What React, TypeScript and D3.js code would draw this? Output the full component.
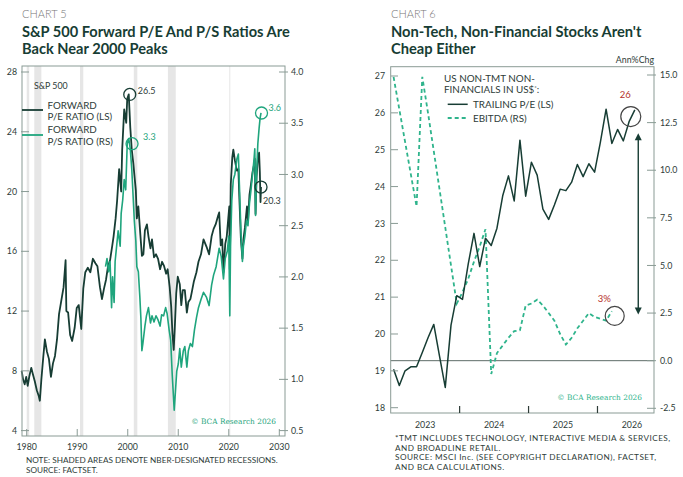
import * as d3 from 'd3';

const FONT = "Lato, 'Open Sans', sans-serif";
const SERIF = "'DejaVu Serif', 'Liberation Serif', serif";
const DARK = '#173d34';
const GREEN = '#1fa57d';
const DASH_GREEN = '#2fb48c';
const TEXT = '#2e3c38';
const FRAME = '#8a9b95';
const RED = '#b5302a';

// ---------- Chart 5: S&P 500 forward P/E and P/S ----------
const recessions: [number, number][] = [
  [1980.0, 1980.5],
  [1981.5, 1982.9],
  [1990.55, 1991.2],
  [2001.2, 2001.9],
  [2007.95, 2009.5],
  [2020.1, 2020.3],
];

// [decimal year, forward P/E]
const fwdPE: [number, number][] = [
  [1979.0, 8.0], [1979.3, 7.4], [1979.6, 7.1], [1979.9, 7.6], [1980.2, 7.0], [1980.5, 7.6],
  [1980.9, 8.2], [1981.2, 7.8], [1981.6, 7.3], [1982.0, 6.7], [1982.4, 6.3], [1982.6, 6.0],
  [1982.9, 7.4], [1983.3, 9.0], [1983.6, 10.1], [1984.0, 9.3], [1984.4, 8.8], [1984.8, 7.6],
  [1985.2, 8.5], [1985.6, 9.0], [1986.0, 10.1], [1986.4, 11.8], [1986.8, 12.6], [1987.3, 13.6],
  [1987.7, 15.4], [1987.85, 12.0], [1988.2, 11.9], [1988.6, 10.4], [1989.0, 10.0], [1989.5, 10.9],
  [1989.9, 12.2], [1990.3, 12.4], [1990.8, 10.8], [1991.2, 13.5], [1991.6, 14.6], [1992.1, 14.9],
  [1992.6, 14.6], [1993.1, 15.5], [1993.6, 15.2], [1994.0, 15.0], [1994.5, 13.6], [1994.9, 12.8],
  [1995.3, 13.5], [1995.7, 14.1], [1996.1, 15.0], [1996.5, 15.4], [1996.9, 16.3], [1997.2, 17.0],
  [1997.6, 18.2], [1997.9, 19.4], [1998.3, 21.5], [1998.7, 20.0], [1998.9, 22.8], [1999.3, 25.5],
  [1999.7, 24.6], [1999.9, 26.2], [2000.2, 26.5], [2000.5, 24.3], [2000.8, 22.8], [2001.1, 21.9],
  [2001.4, 20.8], [2001.6, 20.1], [2001.8, 18.2], [2002.1, 19.0], [2002.5, 17.1], [2002.8, 15.7],
  [2003.1, 15.8], [2003.4, 17.4], [2003.8, 17.8], [2004.1, 17.0], [2004.5, 16.2], [2004.8, 16.8],
  [2005.2, 15.6], [2005.6, 15.8], [2006.0, 15.5], [2006.4, 14.8], [2006.8, 15.3], [2007.2, 15.0],
  [2007.6, 14.5], [2007.9, 14.8], [2008.3, 13.6], [2008.6, 12.3], [2008.85, 10.5], [2009.1, 9.4],
  [2009.3, 10.8], [2009.6, 13.2], [2009.9, 14.3], [2010.3, 13.8], [2010.6, 12.4], [2010.9, 13.4],
  [2011.3, 13.4], [2011.7, 11.9], [2012.0, 12.6], [2012.4, 12.8], [2012.7, 13.3], [2013.1, 14.0],
  [2013.6, 14.6], [2014.0, 15.3], [2014.5, 15.8], [2015.0, 16.8], [2015.6, 16.3], [2016.1, 15.8],
  [2016.6, 17.0], [2017.0, 17.5], [2017.4, 17.8], [2017.9, 18.4], [2018.1, 18.6], [2018.4, 16.4],
  [2018.7, 16.8], [2018.95, 14.6], [2019.3, 16.5], [2019.6, 17.0], [2019.9, 18.2], [2020.1, 19.0],
  [2020.2, 14.8], [2020.4, 20.5], [2020.7, 22.3], [2020.9, 22.8], [2021.2, 22.1], [2021.6, 21.4],
  [2021.9, 21.5], [2022.1, 19.5], [2022.4, 16.8], [2022.7, 15.5], [2022.9, 16.8], [2023.2, 17.6],
  [2023.6, 19.0], [2023.8, 18.0], [2024.1, 19.8], [2024.4, 20.5], [2024.7, 21.3], [2025.0, 21.8],
  [2025.15, 22.2], [2025.3, 18.5], [2025.5, 21.0], [2025.8, 22.4], [2026.0, 22.6], [2026.15, 21.3],
  [2026.28, 19.3], [2026.38, 20.3],
];

// [decimal year, forward P/S]
const fwdPS: [number, number][] = [
  [1995.6, 2.1], [1995.9, 2.18], [1996.2, 2.05], [1996.5, 2.15], [1996.8, 1.7], [1997.0, 2.0],
  [1997.3, 1.75], [1997.5, 2.15], [1997.8, 2.3], [1998.1, 2.45], [1998.5, 2.3], [1998.7, 2.62],
  [1999.0, 2.75], [1999.3, 2.95], [1999.6, 2.85], [1999.9, 3.3], [2000.2, 3.35], [2000.5, 3.25],
  [2000.8, 3.05], [2001.0, 2.85], [2001.3, 2.55], [2001.6, 2.35], [2001.8, 2.1], [2002.1, 2.05],
  [2002.4, 1.8], [2002.6, 1.6], [2002.8, 1.28], [2003.0, 1.35], [2003.4, 1.52], [2003.7, 1.62],
  [2004.1, 1.7], [2004.5, 1.55], [2004.8, 1.62], [2005.2, 1.56], [2005.6, 1.62], [2006.0, 1.58],
  [2006.4, 1.52], [2006.7, 1.63], [2007.1, 1.62], [2007.5, 1.7], [2007.8, 1.64], [2008.2, 1.48],
  [2008.5, 1.38], [2008.8, 1.05], [2009.2, 0.7], [2009.4, 0.85], [2009.7, 1.08], [2010.0, 1.15],
  [2010.3, 1.3], [2010.6, 1.12], [2011.0, 1.28], [2011.3, 1.32], [2011.7, 1.12], [2012.0, 1.28],
  [2012.4, 1.35], [2012.8, 1.32], [2013.2, 1.48], [2013.6, 1.6], [2014.0, 1.7], [2014.5, 1.78],
  [2015.0, 1.85], [2015.6, 1.8], [2016.1, 1.72], [2016.6, 1.92], [2017.0, 2.02], [2017.5, 2.1],
  [2017.9, 2.22], [2018.1, 2.28], [2018.5, 2.2], [2018.95, 1.98], [2019.3, 2.18], [2019.7, 2.25],
  [2020.0, 2.4], [2020.2, 1.62], [2020.35, 2.3], [2020.6, 2.75], [2020.9, 2.95], [2021.2, 3.0],
  [2021.6, 3.15], [2021.9, 3.2], [2022.1, 2.9], [2022.4, 2.45], [2022.7, 2.15], [2022.9, 2.3],
  [2023.2, 2.4], [2023.5, 2.55], [2023.8, 2.5], [2024.1, 2.72], [2024.4, 2.85], [2024.7, 3.0],
  [2025.0, 3.15], [2025.15, 3.25], [2025.3, 2.6], [2025.5, 3.0], [2025.75, 3.3], [2026.0, 3.45],
  [2026.2, 3.55], [2026.38, 3.6],
];

const peTicks5 = [4, 8, 12, 16, 20, 24, 28];
const psTicks5 = [0.5, 1.0, 1.5, 2.0, 2.5, 3.0, 3.5, 4.0];
const decades = [1980, 1990, 2000, 2010, 2020, 2030];

// callouts: [year, value, label]
const peCallouts5: [number, number, string][] = [[2000.4, 26.5, '26.5'], [2026.38, 20.3, '20.3']];
const psCallouts5: [number, number, string][] = [[2000.85, 3.3, '3.3'], [2026.48, 3.6, '3.6']];

// ---------- Chart 6: non-TMT non-financials ----------
const firstYear6 = 2023; // monthly from Jan 2023
const trailingPE = [
  19.04, 18.6, 19.0, 19.11, 19.11, 19.5, 19.9, 20.26, 19.4, 18.55, 20.24, 21.04,
  20.94, 21.9, 22.73, 21.83, 22.6, 22.4, 22.87, 23.75, 24.29, 23.61, 25.26, 23.74,
  24.66, 24.31, 23.39, 23.11, 23.5, 23.93, 23.89, 24.12, 24.6, 24.27, 24.62, 24.39,
  25.2, 26.1, 25.17, 25.55, 25.24, 25.76, 26.08,
];
const ebitdaGrowth = [
  14.9, 13.2, 11.5, 9.8, 8.1, 14.9, 13.0, 11.0, 9.0, 7.0, 5.0, 3.0,
  3.6, 4.3, 5.2, 6.0, 6.9, -0.7, 0.4, 0.8, 1.2, 1.55, 1.6, 2.9,
  3.0, 3.2, 2.9, 2.5, 2.1, 1.4, 0.85, 1.2, 1.7, 2.1, 2.5, 2.3,
  2.2, 2.1, 2.6,
];
const peTicks6 = [18, 19, 20, 21, 22, 23, 24, 25, 26, 27];
const ebitdaTicks = [-2.5, 0, 2.5, 5, 7.5, 10, 12.5, 15];
const yearTicks6 = [2024, 2025, 2026];
const yearLabels6 = [2023, 2024, 2025, 2026];

function Chart5() {
  const left = 22, right = 285, top = 66, bottom = 436;
  const x = d3.scaleLinear().domain([1980, 2030]).range([26.7, 279.3]);
  const yL = d3.scaleLinear().domain([4, 28]).range([430.6, 72]);
  const yR = d3.scaleLinear().domain([0.5, 4]).range([430.6, 72]);
  const pePath = d3.line<[number, number]>().x((d) => x(d[0])).y((d) => yL(d[1]))(fwdPE) ?? '';
  const psPath = d3.line<[number, number]>().x((d) => x(d[0])).y((d) => yR(d[1]))(fwdPS) ?? '';

  return (
    <g fontFamily={FONT}>
      <text x={22} y={18} fontSize={11} fill="#777" fontWeight={300}>CHART 5</text>
      <text x={22} y={37} fontSize={14.6} fontWeight={700} fill={DARK}>S&amp;P 500 Forward P/E And P/S Ratios Are</text>
      <text x={22} y={53.5} fontSize={14.6} fontWeight={700} fill={DARK}>Back Near 2000 Peaks</text>

      {recessions.map(([a, b], i) => (
        <rect key={i} x={x(a)} y={top} width={Math.max(1, x(b) - x(a))} height={bottom - top} fill="#e6e6e6" />
      ))}

      <path d={pePath} fill="none" stroke={DARK} strokeWidth={1.8} strokeLinejoin="round" />
      <path d={psPath} fill="none" stroke={GREEN} strokeWidth={1.6} strokeLinejoin="round" />

      <rect x={left} y={top} width={right - left} height={bottom - top} fill="none" stroke={FRAME} strokeWidth={1} />

      {peTicks5.map((t) => (
        <g key={t}>
          <line x1={21} x2={29} y1={yL(t)} y2={yL(t)} stroke={FRAME} />
          <text x={17} y={yL(t)} dy="0.35em" textAnchor="end" fontSize={8.8} fill={TEXT}>{t}</text>
        </g>
      ))}
      {psTicks5.map((t) => (
        <g key={t}>
          <line x1={279} x2={288} y1={yR(t)} y2={yR(t)} stroke={FRAME} />
          <text x={291} y={yR(t)} dy="0.35em" fontSize={8.8} fill={TEXT}>{t.toFixed(1)}</text>
        </g>
      ))}
      {decades.map((t) => (
        <g key={t}>
          <line x1={x(t)} x2={x(t)} y1={bottom} y2={bottom - 7} stroke={FRAME} />
          <text x={x(t)} y={450} textAnchor="middle" fontSize={8.8} fill={TEXT}>{t}</text>
        </g>
      ))}

      <text x={34} y={89} fontSize={8.8} fill={TEXT}>S&amp;P 500</text>
      <line x1={22} x2={43} y1={110} y2={110} stroke={DARK} strokeWidth={1.8} />
      <text x={47.5} y={108.5} fontSize={9.8} fill={TEXT}>FORWARD</text>
      <text x={47.5} y={120} fontSize={9.8} fill={TEXT}>P/E RATIO (LS)</text>
      <line x1={22} x2={43} y1={135} y2={135} stroke={GREEN} strokeWidth={1.8} />
      <text x={47.5} y={133} fontSize={9.8} fill={TEXT}>FORWARD</text>
      <text x={47.5} y={144.5} fontSize={9.8} fill={TEXT}>P/S RATIO (RS)</text>

      {peCallouts5.map(([yr, v, lab], i) => (
        <g key={lab}>
          <circle cx={x(yr)} cy={yL(v)} r={6} fill="none" stroke={DARK} strokeWidth={1.3} />
          <text x={x(yr) + (i === 0 ? 8 : 2)} y={yL(v) + (i === 0 ? 0 : 17)} fontSize={9} fill={TEXT}>{lab}</text>
        </g>
      ))}
      {psCallouts5.map(([yr, v, lab], i) => (
        <g key={lab}>
          <circle cx={x(yr)} cy={yR(v)} r={6} fill="none" stroke={GREEN} strokeWidth={1.3} />
          <text x={x(yr) + (i === 0 ? 11 : 7)} y={yR(v) - (i === 0 ? 4 : 1.5)} fontSize={9} fill={GREEN}>{lab}</text>
        </g>
      ))}

      <text x={276} y={424} textAnchor="end" fontSize={7.4} fontFamily={SERIF} fill={GREEN}>© BCA Research 2026</text>

      <text x={26} y={463} fontSize={8.2} fill={TEXT}>NOTE: SHADED AREAS DENOTE NBER-DESIGNATED RECESSIONS.</text>
      <text x={26} y={473} fontSize={8.2} fill={TEXT}>SOURCE: FACTSET.</text>
    </g>
  );
}

function Chart6() {
  const left = 390.7, right = 654, top = 66.7, bottom = 413;
  const x = d3.scaleLinear().domain([2023, 2026.82]).range([left, right]);
  const mx = (i: number) => x(firstYear6 + (i + 0.5) / 12);
  const yL = d3.scaleLinear().domain([18, 27]).range([407.7, 76]);
  const yR = d3.scaleLinear().domain([-2.5, 15]).range([408.3, 75]);
  const pePath = d3.line<number>().x((_, i) => mx(i)).y((d) => yL(d))(trailingPE) ?? '';
  const ebPath = d3.line<number>().x((_, i) => mx(i)).y((d) => yR(d))(ebitdaGrowth) ?? '';

  const peCircle = { cx: mx(41.3), cy: yL(25.9) };
  const ebCircle = { cx: mx(38.5), cy: yR(2.35) };
  const ax = mx(42.6);
  const aTop = yL(25.45);
  const aBot = yR(2.43);

  return (
    <g fontFamily={FONT}>
      <text x={391} y={18} fontSize={11} fill="#777" fontWeight={300}>CHART 6</text>
      <text x={391} y={37} fontSize={14.7} fontWeight={700} fill={DARK}>Non-Tech, Non-Financial Stocks Aren't</text>
      <text x={391} y={53.5} fontSize={14.7} fontWeight={700} fill={DARK}>Cheap Either</text>
      <text x={654} y={63} textAnchor="end" fontSize={8.8} fill={TEXT}>Ann%Chg</text>

      <line x1={left} x2={right} y1={yR(0)} y2={yR(0)} stroke="#5d6c67" strokeWidth={1} />

      <path d={ebPath} fill="none" stroke={DASH_GREEN} strokeWidth={1.8} strokeDasharray="4 3" />
      <path d={pePath} fill="none" stroke={DARK} strokeWidth={1.5} strokeLinejoin="round" />

      <rect x={left} y={top} width={right - left} height={bottom - top} fill="none" stroke={FRAME} strokeWidth={1} />

      {peTicks6.map((t) => (
        <g key={t}>
          <line x1={391} x2={398} y1={yL(t)} y2={yL(t)} stroke={FRAME} />
          <text x={385} y={yL(t)} dy="0.35em" textAnchor="end" fontSize={8.8} fill={TEXT}>{t}</text>
        </g>
      ))}
      {ebitdaTicks.map((t) => (
        <g key={t}>
          <line x1={647} x2={656} y1={yR(t)} y2={yR(t)} stroke={FRAME} />
          <text x={660} y={yR(t)} dy="0.35em" fontSize={8.8} fill={TEXT}>{t.toFixed(1)}</text>
        </g>
      ))}
      {yearTicks6.map((t) => (
        <line key={t} x1={x(t)} x2={x(t)} y1={bottom} y2={bottom - 7} stroke={TEXT} strokeWidth={1.2} />
      ))}
      {yearLabels6.map((t) => (
        <text key={t} x={x(t + 0.5)} y={428} textAnchor="middle" fontSize={8.8} fill={TEXT}>{t}</text>
      ))}

      <text x={444} y={82} fontSize={9.9} fill={TEXT}>US NON-TMT NON-</text>
      <text x={444} y={93} fontSize={9.9} fill={TEXT}>FINANCIALS IN US$<tspan fontSize={6} dy={-3}>*</tspan><tspan dy={3}>:</tspan></text>
      <line x1={447.7} x2={467.7} y1={104.3} y2={104.3} stroke={DARK} strokeWidth={1.5} />
      <text x={473} y={107.5} fontSize={9.9} fill={TEXT}>TRAILING P/E (LS)</text>
      <line x1={447.7} x2={467.7} y1={118} y2={118} stroke={DASH_GREEN} strokeWidth={1.8} strokeDasharray="4 3" />
      <text x={473} y={121.5} fontSize={9.9} fill={TEXT}>EBITDA (RS)</text>

      <circle cx={peCircle.cx} cy={peCircle.cy} r={10} fill="none" stroke="#444" strokeWidth={1.2} />
      <text x={peCircle.cx - 5.5} y={peCircle.cy - 19} textAnchor="middle" fontSize={9.5} fill={RED}>26</text>
      <circle cx={ebCircle.cx} cy={ebCircle.cy} r={9.5} fill="none" stroke="#444" strokeWidth={1.2} />
      <text x={ebCircle.cx - 10.5} y={ebCircle.cy - 14} textAnchor="middle" fontSize={9.5} fill={RED}>3%</text>

      <line x1={ax} x2={ax} y1={aTop + 6} y2={aBot - 6} stroke={DARK} strokeWidth={1.4} />
      <path d={`M${ax},${aTop} L${ax - 3.5},${aTop + 7} L${ax + 3.5},${aTop + 7} Z`} fill={DARK} />
      <path d={`M${ax},${aBot} L${ax - 3.5},${aBot - 7} L${ax + 3.5},${aBot - 7} Z`} fill={DARK} />

      <text x={642} y={400} textAnchor="end" fontSize={7.4} fontFamily={SERIF} fill={DASH_GREEN}>© BCA Research 2026</text>

      <g fontSize={8.2} fill={TEXT} letterSpacing={0.45}>
        <text x={395} y={441}>*TMT INCLUDES TECHNOLOGY, INTERACTIVE MEDIA &amp; SERVICES,</text>
        <text x={395} y={450.5}>AND BROADLINE RETAIL.</text>
        <text x={395} y={460}>SOURCE: MSCI Inc. (SEE COPYRIGHT DECLARATION), FACTSET,</text>
        <text x={395} y={469.5}>AND BCA CALCULATIONS.</text>
      </g>
    </g>
  );
}

export default function App() {
  return (
    <div style={{ position: 'absolute', left: 0, top: 0 }}>
      <svg width={683} height={477} viewBox="0 0 683 477" style={{ display: 'block', background: '#fff' }}>
        <Chart5 />
        <Chart6 />
      </svg>
    </div>
  );
}
